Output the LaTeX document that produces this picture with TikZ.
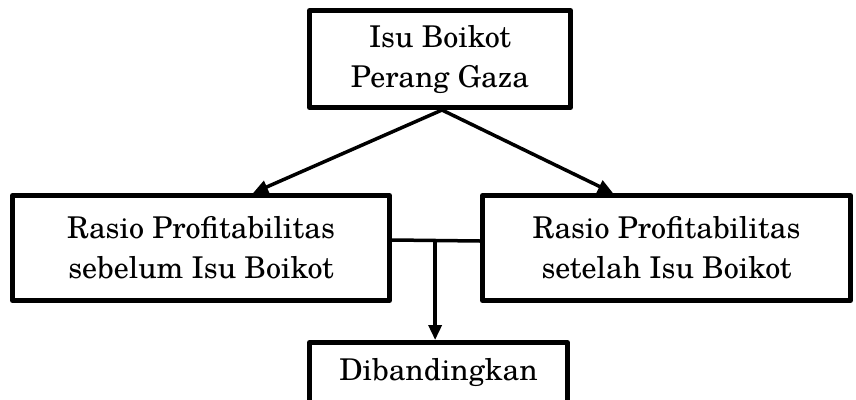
\documentclass[tikz,border=0pt]{standalone}
\usepackage{fontspec}
\setmainfont{TeX Gyre Schola}
\usetikzlibrary{arrows.meta}
\begin{document}
\begin{tikzpicture}[x=1pt,y=-1pt,
  box/.style={draw, line width=5pt, line join=round, align=center, inner sep=0pt,
    font=\fontsize{30}{40}\selectfont},
  conn/.style={line width=3.5pt},
  arr/.style={conn, -{Triangle[length=15pt,width=13pt]}}]
\useasboundingbox (0,0) rectangle (856,399);
\node[box, minimum width=261pt, minimum height=97pt] (T) at (440,59) {Isu Boikot\\Perang Gaza};
\node[box, minimum width=377pt, minimum height=105pt] (L) at (201,248) {Rasio Profitabilitas\\sebelum Isu Boikot};
\node[box, minimum width=368pt, minimum height=105pt] (R) at (666.5,248) {Rasio Profitabilitas\\setelah Isu Boikot};
\node[box, anchor=north, minimum width=258pt, text height=37.5pt, text depth=40pt] (B) at (438.5,340) {Dibandingkan};
\draw[arr] ([xshift=2pt]T.south) -- ([xshift=52pt]L.north);
\draw[arr] ([xshift=2pt]T.south) -- ([xshift=-53.5pt]R.north);
\draw[conn] ([yshift=8pt]L.east) -- coordinate[pos=0.49] (j) ([yshift=7pt]R.west);
\draw[arr] (j) -- (j |- B.north);
\end{tikzpicture}
\end{document}
